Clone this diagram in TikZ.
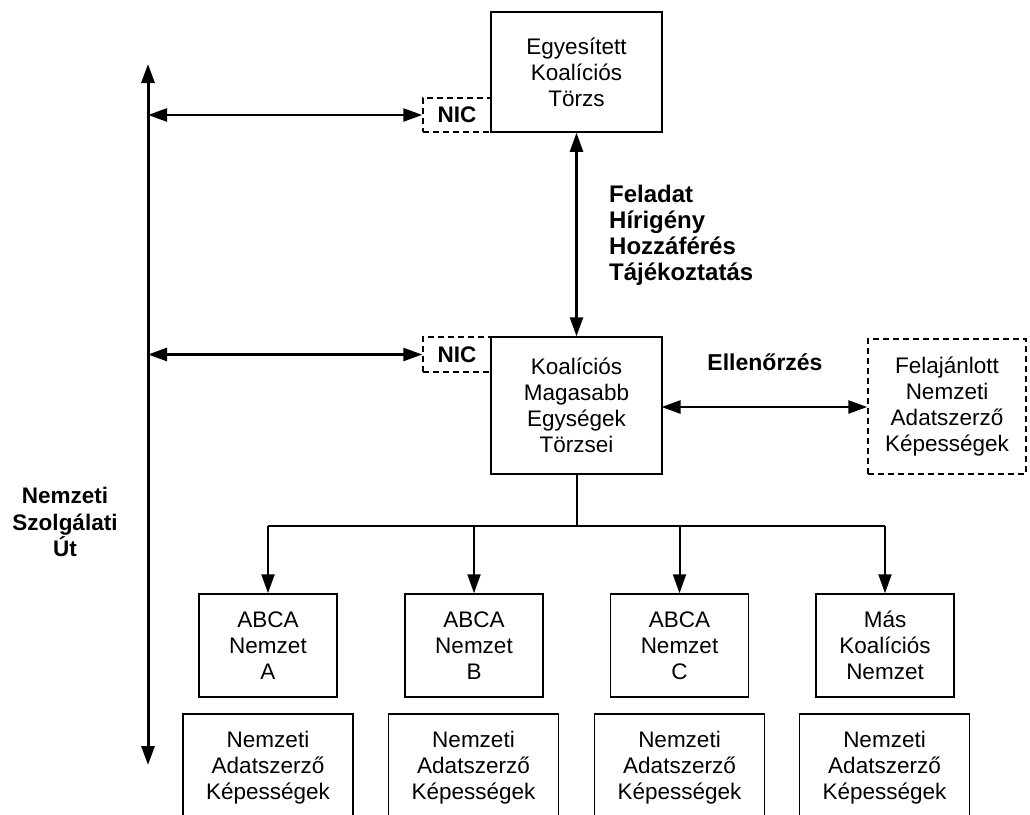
\documentclass[tikz,border=0pt]{standalone}
\usepackage{fontspec}
\setmainfont{Liberation Sans}
\usetikzlibrary{arrows.meta}
\begin{document}
\begin{tikzpicture}[x=1pt,y=-1pt,
  box/.style={draw, line width=1.5pt, align=center, inner sep=0pt, font=\fontsize{22.5}{26}\selectfont},
  dbox/.style={box, dash pattern=on 6pt off 4pt},
  lbl/.style={inner sep=0pt, font=\fontsize{23}{26}\selectfont\bfseries},
  tipx/.tip={Triangle[length=19pt,width=13pt]},
  darr/.style={line width=2.5pt, tipx-tipx},
  sarr/.style={line width=2pt, -tipx},
  tree/.style={line width=2pt}]
\clip (0,0) rectangle (1030,814);
\useasboundingbox (0,0) rectangle (1030,814);
% upper boxes
\node[box, minimum width=171pt, minimum height=120pt] (ekt) at (576.5,72) {Egyesített\\Koalíciós\\Törzs};
\node[dbox, minimum width=68pt, minimum height=34pt] (nic1) at (457,115) {\bfseries NIC};
\node[box, minimum width=171pt, minimum height=137pt] (kmet) at (576.5,405.5) {Koalíciós\\Magasabb\\Egységek\\Törzsei};
\node[dbox, minimum width=68pt, minimum height=35pt] (nic2) at (457,354.5) {\bfseries NIC};
\node[dbox, minimum width=158pt, minimum height=135pt] (fnak) at (947,406.5) {Felajánlott\\Nemzeti\\Adatszerző\\Képességek};
% labels
\node[lbl, align=left, anchor=north west, font=\fontsize{24}{26}\selectfont\bfseries] (fel) at (609,185) {Feladat\\Hírigény\\Hozzáférés\\Tájékoztatás};
\node[lbl] (ell) at (765,362) {Ellenőrzés};
\node[lbl, align=center, font=\fontsize{22.5}{26.5}\selectfont\bfseries] (nsu) at (65,522) {Nemzeti\\Szolgálati\\Út};
% national boxes
\node[box, minimum width=138pt, minimum height=103pt] (na) at (268,645.5) {ABCA\\Nemzet\\A};
\node[box, minimum width=138pt, minimum height=103pt] (nb) at (474,645.5) {ABCA\\Nemzet\\B};
\node[box, minimum width=138pt, minimum height=103pt] (nc) at (679.5,645.5) {ABCA\\Nemzet\\C};
\node[box, minimum width=138pt, minimum height=103pt] (nd) at (885,645.5) {Más\\Koalíciós\\Nemzet};
\node[box, minimum width=170pt, minimum height=108pt] (ca) at (268,768) {Nemzeti\\Adatszerző\\Képességek};
\node[box, minimum width=170pt, minimum height=108pt] (cb) at (473.5,768) {Nemzeti\\Adatszerző\\Képességek};
\node[box, minimum width=170pt, minimum height=108pt] (cc) at (679.5,768) {Nemzeti\\Adatszerző\\Képességek};
\node[box, minimum width=170pt, minimum height=108pt] (cd) at (884.5,768) {Nemzeti\\Adatszerző\\Képességek};
% left vertical path
\coordinate (ltop) at (148,64);
\coordinate (lbot) at (148,765);
\coordinate (l1) at (148,115);
\coordinate (l2) at (148,354.5);
\draw[darr, line width=3pt] (ltop) -- (lbot);
\draw[darr] (l1) -- (nic1.west);
\draw[darr] (l2) -- (nic2.west);
% central connectors
\draw[darr] (ekt.south) -- (kmet.north);
\coordinate (ke) at (661.5,407);
\draw[darr] (ke) -- (ke -| fnak.west);
% tree
\coordinate (bus) at (576.5,526);
\coordinate (busl) at (268,526);
\coordinate (busr) at (885,526);
\draw[tree] (kmet.south) -- (bus);
\draw[tree] (busl) -- (busr);
\draw[sarr] (na.north |- bus) -- (na.north);
\draw[sarr] (nb.north |- bus) -- (nb.north);
\draw[sarr] (nc.north |- bus) -- (nc.north);
\draw[sarr] (nd.north |- bus) -- (nd.north);
\end{tikzpicture}
\end{document}
